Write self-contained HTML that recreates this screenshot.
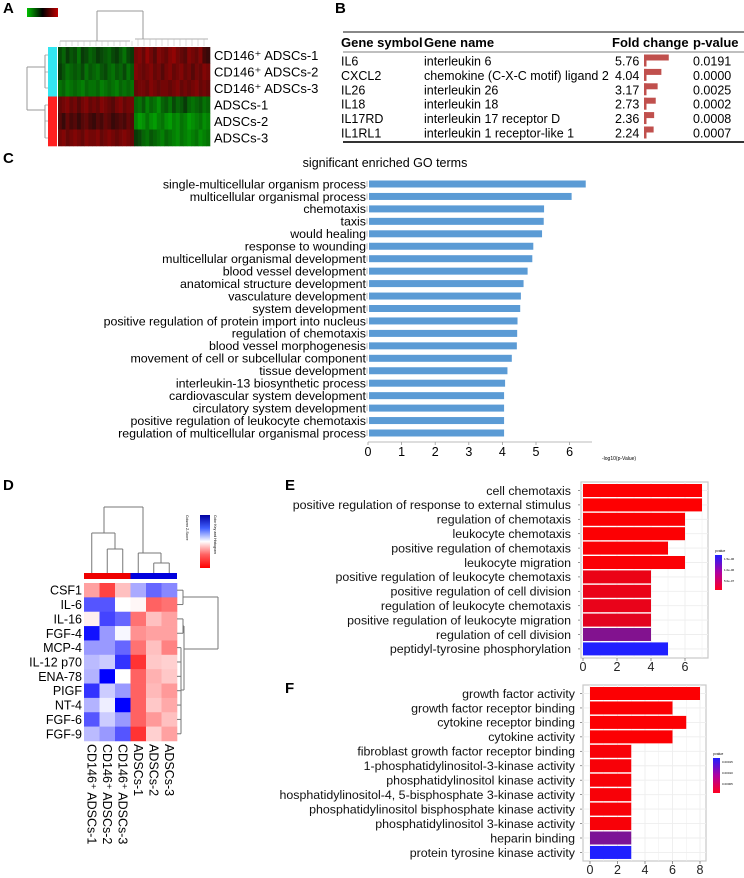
<!DOCTYPE html>
<html><head><meta charset="utf-8"><style>
html,body{margin:0;padding:0;background:#fff}
svg{display:block;font-family:"Liberation Sans",Arial,sans-serif}
</style></head><body>
<svg id="fig" width="744" height="878" viewBox="0 0 744 878" xmlns="http://www.w3.org/2000/svg">
<defs>
<linearGradient id="gk" x1="0" x2="1" y1="0" y2="0"><stop offset="0" stop-color="#00c000"/><stop offset="0.5" stop-color="#000"/><stop offset="1" stop-color="#c00000"/></linearGradient>
<linearGradient id="dk" x1="0" x2="0" y1="0" y2="1"><stop offset="0" stop-color="#0000a0"/><stop offset="0.25" stop-color="#4060ff"/><stop offset="0.5" stop-color="#ffffff"/><stop offset="0.75" stop-color="#ff6060"/><stop offset="1" stop-color="#ff0000"/></linearGradient>
<linearGradient id="pk" x1="0" x2="0" y1="0" y2="1"><stop offset="0" stop-color="#2020ff"/><stop offset="0.5" stop-color="#b000a0"/><stop offset="1" stop-color="#ff0020"/></linearGradient>
<clipPath id="fclip"><rect x="280" y="0" width="464" height="878"/></clipPath>
</defs>
<g id="root"></g>
</svg>
<script>
// ---------- Panel A heatmap data ----------
const aRows = ["CD146⁺ ADSCs-1","CD146⁺ ADSCs-2","CD146⁺ ADSCs-3","ADSCs-1","ADSCs-2","ADSCs-3"];
const aVals0 = [-0.3,-0.5,-0.2,-0.4,-0.3,-0.6,-0.2,-0.3,-0.5,-0.4,-0.2,-0.3,-0.4,-0.5,-0.3,-0.2,-0.4,-0.6,-0.3,-0.2, 0.5,0.6,0.4,0.7,0.5,0.3,0.6,0.5,0.4,0.6,0.7,0.5,0.4,0.3,0.6,0.5,0.4,0.6,0.2,0.1];
const aVals1 = [-0.2,-0.4,-0.6,-0.5,-0.4,-0.5,-0.3,-0.6,-0.4,-0.5,-0.6,-0.4,-0.3,-0.5,-0.6,-0.4,-0.5,-0.3,-0.6,-0.4, 0.6,0.5,0.4,0.5,0.6,0.4,0.5,0.3,0.5,0.6,0.4,0.5,0.6,0.4,0.5,0.3,0.5,0.4,0.6,0.5];
const aVals2 = [-0.6,-0.5,-0.7,-0.6,-0.5,-0.6,-0.7,-0.5,-0.6,-0.6,-0.5,-0.7,-0.6,-0.5,-0.6,-0.7,-0.5,-0.6,-0.5,-0.6, 0.4,0.5,0.5,0.4,0.6,0.5,0.4,0.5,0.5,0.4,0.5,0.6,0.4,0.5,0.4,0.5,0.6,0.4,0.5,0.4];
const aVals3 = [0.4,0.5,0.6,0.4,0.5,0.3,0.5,0.6,0.4,0.5,0.4,0.6,0.5,0.4,0.3,0.5,0.6,0.4,0.5,0.5, -0.5,-0.6,-0.4,-0.7,-0.5,-0.6,-0.8,-0.5,-0.4,-0.6,-0.3,-0.5,-0.4,-0.2,-0.5,-0.6,-0.5,-0.4,-0.6,-0.5];
const aVals4 = [0.3,0.1,0.4,0.2,0.3,0.1,0.3,0.4,0.2,0.1,0.3,0.2,0.4,0.3,0.1,0.2,0.3,0.2,0.4,0.3, -0.7,-0.9,-0.8,-0.6,-0.8,-0.9,-0.7,-0.6,-0.8,-0.9,-0.7,-0.8,-0.6,-0.7,-0.9,-0.8,-0.7,-0.6,-0.8,-0.7];
const aVals5 = [0.5,0.6,0.4,0.5,0.6,0.5,0.4,0.6,0.5,0.5,0.6,0.4,0.5,0.6,0.5,0.4,0.5,0.6,0.5,0.4, -0.2,-0.3,-0.5,-0.6,-0.4,-0.5,-0.6,-0.7,-0.5,-0.6,-0.7,-0.8,-0.6,-0.7,-0.8,-0.7,-0.6,-0.8,-0.7,-0.6];
const aVals = [aVals0,aVals1,aVals2,aVals3,aVals4,aVals5];
// ---------- Panel B table ----------
const bSymbols = ["IL6","CXCL2","IL26","IL18","IL17RD","IL1RL1"];
const bNames = ["interleukin 6","chemokine (C-X-C motif) ligand 2","interleukin 26","interleukin 18","interleukin 17 receptor D","interleukin 1 receptor-like 1"];
const bFold = [5.76,4.04,3.17,2.73,2.36,2.24];
const bP = ["0.0191","0.0000","0.0025","0.0002","0.0008","0.0007"];
// ---------- Panel C ----------
const cTerms = ["single-multicellular organism process","multicellular organismal process","chemotaxis","taxis","would healing","response to wounding","multicellular organismal development","blood vessel development","anatomical structure development","vasculature development","system development","positive regulation of protein import into nucleus","regulation of chemotaxis","blood vessel morphogenesis","movement of cell or subcellular component","tissue development","interleukin-13 biosynthetic process","cardiovascular system development","circulatory system development","positive regulation of leukocyte chemotaxis","regulation of multicellular organismal process"];
const cVals = [6.48,6.06,5.24,5.23,5.18,4.92,4.89,4.75,4.63,4.55,4.53,4.45,4.44,4.43,4.28,4.15,4.08,4.05,4.05,4.05,4.05];
const cTicks = [0,1,2,3,4,5,6];
// ---------- Panel D ----------
const dRows = ["CSF1","IL-6","IL-16","FGF-4","MCP-4","IL-12 p70","ENA-78","PIGF","NT-4","FGF-6","FGF-9"];
const dCols = ["CD146⁺ ADSCs-1","CD146⁺ ADSCs-2","CD146⁺ ADSCs-3","ADSCs-1","ADSCs-2","ADSCs-3"];
const dZ = [
 [-0.6,-1.2,-0.4,0.5,0.9,0.7],
 [1.0,1.0,0.0,-0.05,-1.0,-0.9],
 [-0.1,1.1,0.9,-0.9,-0.4,-0.6],
 [1.4,0.6,0.05,-0.7,-0.6,-0.6],
 [0.6,0.6,0.9,-0.9,-0.4,-0.8],
 [0.4,0.3,1.2,-1.3,-0.35,-0.3],
 [0.45,1.5,0.0,-1.0,-0.5,-0.35],
 [1.2,0.3,0.6,-1.0,-0.45,-0.65],
 [0.45,0.1,1.5,-1.0,-0.35,-0.55],
 [1.0,0.3,0.6,-1.0,-0.65,-0.4],
 [0.4,0.6,1.0,-1.3,-0.3,-0.6]];
// ---------- Panel E ----------
const eTerms = ["cell chemotaxis","positive regulation of response to external stimulus","regulation of chemotaxis","leukocyte chemotaxis","positive regulation of chemotaxis","leukocyte migration","positive regulation of leukocyte chemotaxis","positive regulation of cell division","regulation of leukocyte chemotaxis","positive regulation of leukocyte migration","regulation of cell division","peptidyl-tyrosine phosphorylation"];
const eCounts = [7,7,6,6,5,6,4,4,4,4,4,5];
const ePvals = [0.01e-6,0.01e-6,0.02e-6,0.02e-6,0.03e-6,0.03e-6,0.14e-6,0.15e-6,0.16e-6,0.2e-6,0.9e-6,1.6e-6];
const eTicks = [0,2,4,6];
// ---------- Panel F ----------
const fTerms = ["growth factor activity","growth factor receptor binding","cytokine receptor binding","cytokine activity","fibroblast growth factor receptor binding","1-phosphatidylinositol-3-kinase activity","phosphatidylinositol kinase activity","phosphatidylinositol-4, 5-bisphosphate 3-kinase activity","phosphatidylinositol bisphosphate kinase activity","phosphatidylinositol 3-kinase activity","heparin binding","protein tyrosine kinase activity"];
const fCounts = [8,6,7,6,3,3,3,3,3,3,3,3];
const fPvals = [0.000002,0.000002,0.000002,0.000002,0.000005,0.000005,0.000005,0.000005,0.000005,0.000005,0.0001,0.00017];
const fTicks = [0,2,4,6,8];

const NS="http://www.w3.org/2000/svg";
const root=document.getElementById('root');
function mk(tag,attrs,parent,txt){const e=document.createElementNS(NS,tag);for(const k in attrs)e.setAttribute(k,attrs[k]);if(txt!==undefined)e.textContent=txt;(parent||root).appendChild(e);return e;}
function line(x1,y1,x2,y2,c,w,p){return mk('line',{x1,y1,x2,y2,stroke:c,'stroke-width':w||1},p);}
function grp(name){const g=mk('g',{});


return g;}

[["A",3,13],["B",335,13],["C",3,163],["D",3,490],["E",285,490],["F",285,693]].forEach(l=>{
 const t=mk('text',{x:l[1],y:l[2],'font-size':15,'font-weight':'bold'},root,l[0]);
 
 
});

// ===== Panel A =====
(function(){
 const g=grp('panel-a-heatmap');
 const x0=58,x1=210,y0=47,rh=16.5,nc=aVals0.length,cw=(x1-x0)/nc;
 function col(v){if(v<0){const k=Math.min(1,-v);return `rgb(${Math.round(10-8*k)},${Math.round(30+140*k)},${Math.round(10-8*k)})`;}const k=Math.min(1,v);return `rgb(${Math.round(40+150*k)},${Math.round(10-8*k)},${Math.round(10-8*k)})`;}
 aVals.forEach((row,i)=>{row.forEach((v,j)=>{
  const r=mk('rect',{x:x0+j*cw,y:y0+i*rh,width:cw+0.3,height:rh+0.3,fill:col(v)},g);
  
  
 });
  const s=mk('rect',{x:48,y:y0+i*rh,width:9,height:rh+0.3,fill:i<3?'#33e6f0':'#ff2020'},g);
  
  
  const t=mk('text',{x:214,y:y0+i*rh+rh/2+4.5,'font-size':13},g,aRows[i]);
  
  
 });
 const k=mk('rect',{x:27,y:8,width:31,height:9,fill:'url(#gk)'},g);
 
 
 const dc='#999';
 line(97,11,143,11,dc,1,g);line(97,11,97,41,dc,1,g);line(143,11,143,39,dc,1,g);
 line(60,41,130,41,dc,0.7,g);line(135,39,208,39,dc,0.7,g);
 for(let x=60;x<=208;x+=6){line(x,x<133?41:39,x,46,'#bbb',0.5,g);}
 line(27,67,27,110,dc,1,g);line(27,67,45,67,dc,1,g);line(27,110,45,110,dc,1,g);
 line(45,55,45,88,dc,1,g);line(45,105,45,138,dc,1,g);
 [55,72,88,105,121,138].forEach(y=>line(45,y,48,y,dc,0.7,g));
})();

// ===== Panel B =====
(function(){
 const g=grp('panel-b-table');
 line(343,32,744,32,'#888',2,g);
 line(343,52,744,52,'#555',0.8,g);
 line(343,142,744,142,'#333',2,g);
 [["Gene symbol",341],["Gene name",424],["Fold change",612],["p-value",693]].forEach(h=>{
  const t=mk('text',{x:h[1],y:47,'font-size':13,'font-weight':'bold'},g,h[0]);
  
  
 });
 bSymbols.forEach((s,i)=>{
  const y=61+i*14.4+4.5;
  const a=mk('text',{x:341,y,'font-size':12.5},g,s);
  
  
  const b=mk('text',{x:424,y,'font-size':12.5},g,bNames[i]);
  
  
  const c=mk('text',{x:615,y,'font-size':12.5},g,bFold[i].toFixed(2));
  
  
  const r=mk('rect',{x:644,y:y-11,width:bFold[i]*4.3,height:6,fill:'#c0504d'},g);
  
  
  mk('rect',{x:644,y:y-11,width:2.5,height:12,fill:'#c0504d'},g);
  const p=mk('text',{x:693,y,'font-size':12.5},g,bP[i]);
  
  
 });
})();

// ===== Panel C =====
(function(){
 const g=grp('panel-c-go-chart');
 const x0=368,ux=33.6,yTop=184,dy=12.45;
 const X=v=>x0+v*ux;
 const t=mk('text',{x:385,y:167,'font-size':12.5,'text-anchor':'middle'},g,'significant enriched GO terms');
 
 
 cTerms.forEach((term,i)=>{
  const yc=yTop+i*dy;
  const r=mk('rect',{x:X(0)+1,y:yc-3.5,width:X(cVals[i])-X(0)-1,height:7,fill:'#5b9bd5'},g);
  
  
  line(X(0)-1,yc-3,X(0)-1,yc+3,'#aaa',0.8,g);
  const l=mk('text',{x:366,y:yc+4.3,'font-size':12.4,'text-anchor':'end'},g,term);
  
  
 });
 line(X(0),442,592,442,'#bbb',1,g);
 cTicks.forEach(v=>{
  line(X(v),442,X(v),445,'#999',0.8,g);
  const tk=mk('text',{x:X(v),y:456,'font-size':12.5,'text-anchor':'middle'},g,String(v));
  
  
 });
 const xl=mk('text',{x:602,y:460,'font-size':5},g,'-log10(p-Value)');
 
 
})();

// ===== Panel D =====
(function(){
 const g=grp('panel-d-heatmap');
 const x0=84,cw=15.5,y0=583,rh=14.36;
 function col(z){const k=Math.min(1,Math.abs(z)/1.5);if(z>=0){return `rgb(${Math.round(255-255*k)},${Math.round(255-255*k)},255)`;}return `rgb(255,${Math.round(255-235*k)},${Math.round(255-235*k)})`;}
 dZ.forEach((row,i)=>{
  row.forEach((z,j)=>{
   const r=mk('rect',{x:x0+j*cw,y:y0+i*rh,width:cw+0.3,height:rh+0.3,fill:col(z)},g);
   
   
  });
  const t=mk('text',{x:82,y:y0+i*rh+rh/2+4.5,'font-size':12.5,'text-anchor':'end'},g,dRows[i]);
  
  
 });
 mk('rect',{x:x0,y:573,width:3*cw,height:6,fill:'#ee0000'},g);
 mk('rect',{x:x0+3*cw,y:573,width:3*cw,height:6,fill:'#0000dd'},g);
 dCols.forEach((c,j)=>{
  const cx=x0+j*cw+cw/2;
  const t=mk('text',{x:0,y:0,'font-size':12.5,transform:`translate(${cx-4.5},744) rotate(90)`},g,c);
  
  
 });
 const dc='#777';
 const cc=j=>x0+j*cw+cw/2;
 line(104,507,143,507,dc,1,g);line(104,507,104,533,dc,1,g);line(143,507,143,553,dc,1,g);
 line(cc(0),533,115,533,dc,1,g);line(cc(0),533,cc(0),573,dc,1,g);line(115,533,115,549,dc,1,g);
 line(cc(1),549,cc(2),549,dc,1,g);line(cc(1),549,cc(1),573,dc,1,g);line(cc(2),549,cc(2),573,dc,1,g);
 line(cc(3),553,161,553,dc,1,g);line(cc(3),553,cc(3),573,dc,1,g);line(161,553,161,563,dc,1,g);
 line(cc(4),563,cc(5),563,dc,1,g);line(cc(4),563,cc(4),573,dc,1,g);line(cc(5),563,cc(5),573,dc,1,g);
 const rc=i=>y0+i*rh+rh/2;
 line(177,rc(0),183,rc(0),dc,1,g);line(177,rc(1),183,rc(1),dc,1,g);line(183,rc(0),183,rc(1),dc,1,g);
 line(183,597,218,597,dc,1,g);line(218,597,218,649,dc,1,g);line(184,649,218,649,dc,1,g);
 line(184,626,184,690,dc,1,g);
 line(177,rc(2),183,rc(2),dc,1,g);line(177,rc(3),183,rc(3),dc,1,g);line(183,rc(2),183,rc(3),dc,1,g);line(183,626,184,626,dc,1,g);
 line(181,rc(4),181,rc(10),dc,1,g);line(181,690,184,690,dc,1,g);
 for(let i=4;i<11;i++){line(177,rc(i),181,rc(i),dc,1,g);}
 const k=mk('rect',{x:200,y:515,width:10,height:53,fill:'url(#dk)'},g);
 
 
 mk('text',{x:0,y:0,'font-size':3.5,transform:'translate(214,515) rotate(90)'},g,'Color Key and Histogram');
 mk('text',{x:0,y:0,'font-size':3.5,transform:'translate(186,515) rotate(90)'},g,'Column Z-Score');
})();

// ===== Panels E & F =====
function barPanel(name,terms,counts,pv,ticks,opt){
 const g=grp(name);
 if(opt.clip)g.setAttribute('clip-path','url(#fclip)');
 const X=v=>opt.x0+v*opt.ux;
 mk('rect',{x:opt.px0,y:opt.py0,width:opt.px1-opt.px0,height:opt.py1-opt.py0,fill:'#fff',stroke:'#c8c8c8','stroke-width':1.2},g);
 for(let v=0;v<=ticks[ticks.length-1]+1;v+=1){const x=X(v);if(x<opt.px1)line(x,opt.py0,x,opt.py1,'#eeeeee',v%2?0.5:0.9,g);}
 const pmax=opt.pmax;
 function col(p){const k=Math.min(1,p/pmax);return `rgb(${Math.round(255*(1-k)+32*k)},${Math.round(32*k)},${Math.round(255*k)})`;}
 terms.forEach((t,i)=>{
  const yc=opt.y0+i*opt.dy;
  line(opt.px0,yc,opt.px1,yc,'#eeeeee',0.9,g);
  const r=mk('rect',{x:X(0),y:yc-6.5,width:X(counts[i])-X(0),height:13,fill:col(pv[i])},g);
  
  
  line(opt.px0-3,yc,opt.px0-1,yc,'#666',0.7,g);
  const l=mk('text',{x:opt.lx,y:yc+4.3,'font-size':12.4,'text-anchor':'end','fill':'#111'},g,t);
  
  
 });
 ticks.forEach(v=>{
  line(X(v),opt.py1,X(v),opt.py1+3,'#666',0.7,g);
  const tk=mk('text',{x:X(v),y:opt.py1+13,'font-size':12.5,'text-anchor':'middle','fill':'#222'},g,String(v));
  
  
 });
 const lk=mk('rect',{x:opt.kx,y:opt.ky,width:7,height:35,fill:'url(#pk)'},g);
 
 
 mk('text',{x:opt.kx,y:opt.ky-3,'font-size':3.5},g,'pvalue');
 opt.klabels.forEach((s,i)=>mk('text',{x:opt.kx+9,y:opt.ky+5+i*11,'font-size':3},g,s));
 return g;
}
barPanel('panel-e-go-bp',eTerms,eCounts,ePvals,eTicks,{x0:583,ux:17,y0:490.5,dy:14.4,px0:581,px1:708,py0:482,py1:658,lx:571,pmax:1.6e-6,kx:715,ky:555,klabels:['1.5e-06','1.0e-06','5.0e-07']});
barPanel('panel-f-go-mf',fTerms,fCounts,fPvals,fTicks,{x0:590,ux:13.75,y0:693.5,dy:14.45,px0:583,px1:706,py0:685,py1:861,lx:575,pmax:0.00017,kx:713,ky:758,klabels:['0.00015','0.00010','0.00005'],clip:true});
</script>
</body></html>
